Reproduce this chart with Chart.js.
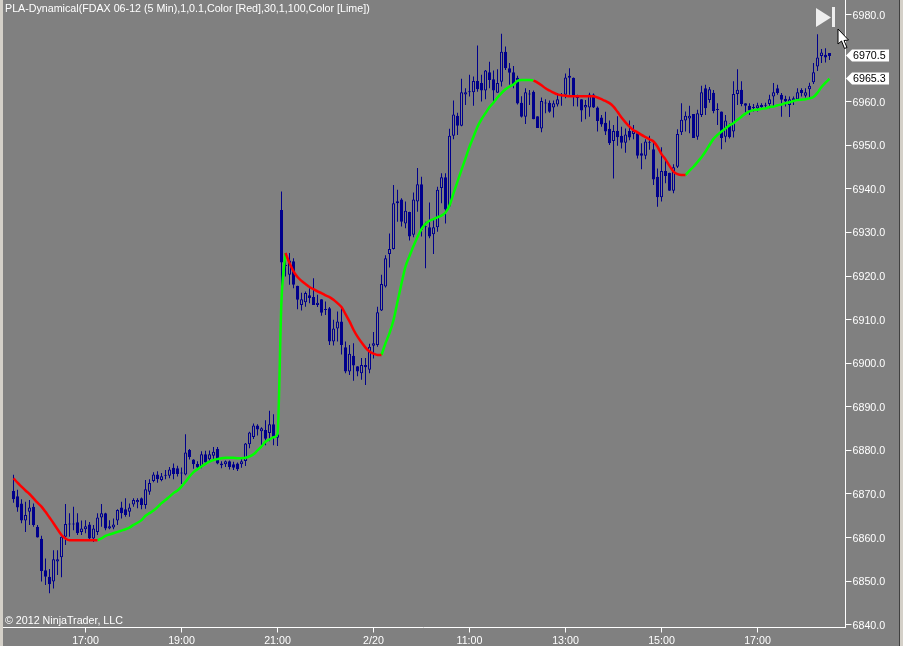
<!DOCTYPE html>
<html>
<head>
<meta charset="utf-8">
<title>FDAX 06-12</title>
<script src="https://cdn.jsdelivr.net/npm/chart.js@4/dist/chart.umd.min.js"></script>
<style>
html, body { margin: 0; padding: 0; background: #808080; overflow: hidden; }
canvas { display: block; }
</style>
</head>
<body>
<canvas id="chart" width="903" height="646"></canvas>
<script>
// -------- data (one entry per 5 min bar) -------- //

const opens = [
6870.7,6869.5,6867.8,6863.9,6865.9,6867.1,6862.5,6859.7,6852.5,6851,
6849.9,6854.5,6855.5,6860.2,6863.1,6863,6863.5,6861.3,6861.9,6863,
6859.8,6861.3,6864.6,6865.6,6862.1,6862.3,6863.9,6866.9,6866.5,6865.9,
6867.6,6868.1,6869,6867.5,6870.5,6873,6874.5,6873.2,6874.4,6874.2,
6876,6875.9,6874.9,6874.5,6880.1,6877.9,6876.9,6876.4,6879.1,6878,
6878.8,6880.3,6877,6876.8,6877.5,6876.8,6877,6876.8,6877.6,6881.4,
6883.1,6885.7,6884.4,6884.7,6884,6886,6882.9,6935.2,6922.5,6920.3,
6923.4,6917.8,6913.4,6914,6915.6,6915.2,6913.4,6914.7,6912.3,6912.6,
6905,6908,6909.6,6903.7,6898.1,6901.7,6899.3,6897.7,6899.6,6898.5,
6904,6904.2,6912.1,6917.6,6925.1,6926.2,6936.7,6937.6,6932.1,6934.7,
6929.5,6937.1,6941.1,6931.3,6931.2,6929.6,6931.2,6940.2,6942.7,6936,
6952.2,6956.8,6954.5,6961.7,6962.3,6962.2,6964.8,6964.3,6962.6,6966.8,
6965.2,6962.1,6964.6,6971.5,6967.7,6966.8,6965.5,6959.8,6956.6,6961.8,
6962.3,6956.7,6953.9,6959.7,6959.8,6958.7,6959.4,6961.4,6961.6,6965.5,
6965.5,6961,6960.6,6958.7,6958.7,6961.7,6958.7,6956.4,6955.2,6953.8,
6951,6953.3,6952.2,6950.6,6953.3,6952.6,6952.8,6948.2,6947.6,6950.7,
6949.1,6942.8,6938.1,6944.1,6943.7,6939.6,6945.1,6953,6955.7,6956.2,
6957.2,6952,6957,6963.1,6960.4,6962.1,6958.2,6957.8,6952,6954.7,
6953.2,6961.8,6962.8,6959.7,6959.1,6958.8,6958.5,6958.8,6959.2,6959.5,
6961.2,6963.1,6961.6,6960.7,6959.3,6960.3,6960.6,6962.7,6961.4,6962.9,
6964.5,6968.1,6970.5,6970.8,6971.2
];

const closes = [
6868.8,6866.9,6863.9,6865.2,6866.9,6862.9,6860,6852.3,6851,6849.3,
6855,6855,6860.2,6863.1,6863,6863.1,6861,6862.1,6862.6,6859.8,
6862.1,6864.6,6865.6,6862.1,6862.6,6863,6866.3,6865.6,6865.2,6866.9,
6868.6,6868.6,6867.5,6871.1,6872.5,6874.5,6873.4,6874.1,6874.2,6875.6,
6874.6,6874.6,6874.7,6879.5,6878.5,6876.8,6876.1,6879.1,6877.2,6879.1,
6879.7,6877,6876.6,6877.5,6876.2,6876,6875.7,6877.5,6881.6,6884.1,
6885.7,6884.8,6885.1,6882.7,6886,6883.1,6883.7,6923.1,6922.3,6923.6,
6918,6914.6,6914.7,6916.1,6915,6913.4,6913.9,6911.6,6912.2,6905,
6908,6909.6,6904.2,6898.1,6902.2,6899.5,6898.1,6899.6,6899.1,6903.8,
6904.6,6911.7,6918.2,6924.1,6926.2,6936.7,6937.2,6932.5,6935,6929.1,
6937.6,6941.1,6930.6,6931.2,6929.1,6931.2,6939.8,6942.7,6935.3,6952.2,
6957.1,6954.5,6962.2,6962.2,6962.2,6964.8,6962.9,6962.6,6967.2,6965,
6962.6,6964.3,6971.5,6967.7,6966.7,6963.8,6959.6,6956.6,6962.2,6961.7,
6956,6954,6960.2,6959.6,6957.7,6959.7,6960.6,6961.3,6965.6,6966,
6961.3,6960.9,6958,6959.3,6961.7,6958.7,6955.6,6954.8,6953.2,6950.5,
6953.3,6951.9,6950.6,6952.5,6951.8,6953.3,6947.6,6947.6,6950.9,6950.6,
6942.2,6938.1,6944.1,6943,6939.6,6945,6952.6,6955.9,6956.8,6956.8,
6951.7,6957.4,6962.2,6958.5,6962.9,6957.9,6958.1,6951.7,6955.7,6951.9,
6961.8,6962.8,6959.5,6959.1,6958,6958.6,6959.2,6959.3,6959.1,6960.6,
6962.2,6962,6960.5,6960.1,6960.6,6960.8,6962.2,6962,6962.2,6963.7,
6966.8,6970.2,6971.3,6970.2,6970.5
];

const highs = [
6874.4,6871,6868.8,6868.2,6868.6,6867.8,6862.9,6860.4,6855.2,6852.8,
6857.1,6857.1,6860.3,6867.7,6865.6,6867.1,6865.6,6863.9,6864,6863.6,
6862.9,6865.6,6867.7,6865.7,6864,6864.4,6866.5,6868.2,6869,6867.8,
6869,6869,6869.2,6873.2,6873.4,6875,6875.2,6874.8,6875.5,6876.2,
6877,6876.5,6876.1,6883.7,6880.3,6878,6877.5,6879.8,6879.9,6880,
6880.8,6880.8,6877.5,6877.7,6877.7,6877.4,6877.2,6878.3,6881.7,6884.3,
6886.2,6886,6885.3,6886.9,6889.1,6888.3,6886,6939.4,6925,6925.3,
6924.1,6917.8,6916.2,6916.5,6917.2,6919.5,6915.7,6914.7,6914.2,6912.9,
6910,6911.9,6913,6905,6904.2,6904.6,6899.3,6901.2,6901.2,6904.5,
6907.2,6913,6920.3,6924.8,6929.8,6940.9,6939.8,6937.9,6937.1,6934.8,
6939.2,6944.8,6942.8,6932.5,6936.9,6933.3,6940.5,6943.6,6943.6,6953.8,
6960.3,6957.5,6965.3,6963.1,6966.2,6965.8,6972.9,6966.2,6967.3,6969.2,
6967.2,6967.5,6975.6,6972.7,6968.9,6968.2,6966,6961.3,6963.1,6962.7,
6962.6,6956.7,6961,6960.6,6960.3,6960.3,6962,6962,6966.5,6967.7,
6965.6,6961.6,6960.6,6960.4,6962.1,6961.9,6958.9,6957,6957.7,6955.7,
6954.7,6956.7,6954.3,6953.9,6955.7,6954.7,6952.8,6950.5,6951.4,6952.2,
6951.2,6944.7,6949.6,6946.6,6943.7,6945.7,6953.7,6959.7,6957.8,6959.1,
6957.2,6958.2,6963.7,6963.9,6963.4,6962.7,6959.7,6957.8,6957,6955,
6964.7,6967.5,6964.7,6959.7,6959.7,6959.5,6959.8,6959.7,6959.8,6961.6,
6964.3,6963.9,6962,6961.4,6961.2,6961.2,6963.1,6963.1,6963.1,6964.4,
6968.9,6975.5,6972.1,6972.3,6971.2
];

const lows = [
6868,6865.9,6863.3,6861.3,6862.9,6862.5,6860,6849.9,6849.1,6847.2,
6848.3,6851.4,6850.9,6858.3,6860.2,6861.7,6860.6,6860.6,6861,6859.4,
6859,6860.6,6862.5,6861.7,6861.9,6861.9,6862.9,6864.4,6864.8,6864.8,
6867.1,6866.7,6866.5,6866.6,6869.8,6872.7,6872.6,6872.9,6873.4,6873.6,
6873.4,6874,6872.3,6874.3,6877.9,6875.8,6875.5,6875.9,6877,6877.4,
6877.6,6876.8,6875.9,6876.2,6875.6,6875.5,6875.3,6876,6876.4,6880.5,
6882.6,6883.4,6880.9,6881.2,6882.1,6881.2,6881,6917,6919.9,6918,
6917.2,6912.4,6912.1,6913,6913.8,6913.4,6912.9,6910.9,6911.1,6904.2,
6904.1,6905,6902,6897.7,6897.3,6896,6897,6896.2,6895,6897.7,
6901.1,6903.8,6912,6917.4,6922,6926.1,6932.5,6931.4,6931,6928.2,
6928.9,6934.8,6929.1,6921.8,6928.7,6925.1,6930.2,6936.7,6932.1,6935.9,
6951.4,6952.4,6954.4,6959.3,6961.2,6959.1,6962.3,6960.1,6960.6,6963.1,
6960.1,6962.1,6963.5,6967.3,6963.9,6963.1,6959.4,6956.4,6954.9,6959.3,
6956,6954,6953,6957.4,6957.5,6956.4,6958.9,6959.1,6960.8,6961.6,
6959,6958.9,6955.4,6956,6956.6,6958.6,6953.2,6954.3,6952.4,6950.1,
6942.4,6949.9,6949.3,6948.3,6951.2,6951.4,6947,6944.5,6946.8,6949,
6940.9,6935.9,6937.1,6941.3,6939.6,6939,6944.8,6952.4,6953.2,6952.8,
6951.7,6951.3,6956.5,6957,6959.8,6957.4,6954.7,6949.1,6950.7,6951.6,
6951.8,6959.3,6959,6957,6957,6957.8,6957.8,6958.2,6958.5,6958.5,
6958.9,6961.6,6956.6,6958.9,6956.5,6959.3,6960.5,6961.2,6961,6960.8,
6964.1,6967.1,6968.9,6969,6969.6
];

// PLA-Dynamical line, red while falling and lime while rising
const redLine = [
6873.6,6872.6,6871.7,6870.8,6870,6869,6868,6867.1,6865.9,6864.6,
6863.3,6861.9,6860.6,6859.8,6859.4,6859.4,6859.4,6859.4,6859.4,6859.4,
6859.4,6859.4,null,null,null,null,null,null,null,null,
null,null,null,null,null,null,null,null,null,null,
null,null,null,null,null,null,null,null,null,null,
null,null,null,null,null,null,null,null,null,null,
null,null,null,null,null,null,null,null,6925.3,6923,
6921.1,6919.8,6918.9,6918.2,6917.5,6917,6916.5,6916.1,6915.6,6915.2,
6914.6,6913.8,6912.9,6911.3,6909.6,6907.7,6906.1,6904.8,6903.6,6902.7,
6902.2,6901.9,6901.9,null,null,null,null,null,null,null,
null,null,null,null,null,null,null,null,null,null,
null,null,null,null,null,null,null,null,null,null,
null,null,null,null,null,null,null,null,null,null,
6964.9,6964.4,6963.8,6963.1,6962.6,6962.1,6961.7,6961.5,6961.4,6961.3,
6961.3,6961.3,6961.3,6961.3,6961.3,6961.3,6961,6960.6,6960.2,6959.7,
6958.9,6957.7,6956.4,6955.3,6954.3,6953.5,6953,6952.4,6951.9,6951.4,
6950.9,6949.7,6948,6946.8,6945.3,6944,6943.4,6943.2,6943.2,null,
null,null,null,null,null,null,null,null,null,null,
null,null,null,null,null,null,null,null,null,null,
null,null,null,null,null,null,null,null,null,null,
null,null,null,null,null
];

const limeLine = [
null,null,null,null,null,null,null,null,null,null,
null,null,null,null,null,null,null,null,null,null,
null,6859.4,6859.8,6860.4,6860.7,6861,6861.3,6861.6,6861.9,6862.3,
6862.9,6863.4,6864,6865,6865.6,6866.2,6867,6867.9,6868.6,6869.4,
6870.2,6870.8,6871.7,6872.8,6874,6875,6875.7,6876.3,6876.9,6877.4,
6877.8,6878,6878.2,6878.3,6878.3,6878.3,6878.2,6878.2,6878.3,6878.6,
6879.1,6880,6880.9,6882,6882.5,6883,6883.8,6914.5,6925.3,null,
null,null,null,null,null,null,null,null,null,null,
null,null,null,null,null,null,null,null,null,null,
null,null,6901.9,6904.6,6906.9,6909.9,6914.1,6918.3,6922.2,6924.6,
6926.9,6929,6930.8,6932,6932.7,6933.1,6933.5,6933.9,6934.6,6936.2,
6939,6941.7,6944.4,6947,6949.7,6952,6954.3,6956,6957.4,6958.8,
6959.8,6961,6962,6962.9,6963.5,6964,6964.8,6965,6965,6965,
6964.9,null,null,null,null,null,null,null,null,null,
null,null,null,null,null,null,null,null,null,null,
null,null,null,null,null,null,null,null,null,null,
null,null,null,null,null,null,null,null,6943.2,6944.2,
6945.1,6946.2,6947.3,6948.6,6950.1,6951.5,6952.4,6953.2,6953.9,6954.6,
6955.1,6955.9,6956.6,6957.3,6957.8,6958.1,6958.2,6958.4,6958.5,6958.8,
6958.9,6959.2,6959.4,6959.7,6959.9,6960.2,6960.4,6960.5,6960.6,6960.8,
6961.1,6962.1,6963.4,6964.4,6965.3
];

// time axis labels and the bar they sit under
const timeBars = [18, 42, 66, 90, 114, 138, 162, 186];
const timeNames = ["17:00", "19:00", "21:00", "2/20", "11:00", "13:00", "15:00", "17:00"];

// price axis (6970.0 sits behind the price flag in the reference, so it is left out)
const priceTicks = [6840, 6850, 6860, 6870, 6880, 6890, 6900, 6910, 6920, 6930, 6940, 6950, 6960, 6980];

// price markers on the right edge
const markerValues = [6970.5, 6965.3];

const titleText = "PLA-Dynamical(FDAX 06-12 (5 Min),1,0.1,Color [Red],30,1,100,Color [Lime])";
const copyrightText = "\u00A9 2012 NinjaTrader, LLC";

// -------- colours and layout -------- //

const BG = "#808080";
const FRAME = "#d4d0c8";
const CANDLE = "#00008c";
const TEXT = "#ffffff";
const FONT = "10.7px 'Liberation Sans', Arial, sans-serif";

// blank slots so the bars sit where the reference has them on the time axis
const LEAD = 3;
const TRAIL = 4;

const pad = (arr) => [...Array(LEAD).fill(null), ...arr, ...Array(TRAIL).fill(null)];

const labels = Array(LEAD + opens.length + TRAIL).fill("");
timeBars.forEach((bar, i) => { labels[bar + LEAD] = timeNames[i]; });

const wicks = pad(lows.map((low, i) => [low, highs[i]]));
const bodies = pad(opens.map((open, i) => [Math.min(open, closes[i]), Math.max(open, closes[i])]));
const bodyFill = pad(opens.map((open, i) => closes[i] >= open ? BG : CANDLE));

// -------- plugin for what is not a data mark: frame, texts, price flags, icons -------- //

const decorations = {
    id: "decorations",
    beforeDraw(chart) {
        const ctx = chart.ctx;
        ctx.save();
        ctx.fillStyle = BG;
        ctx.fillRect(0, 0, chart.width, chart.height);
        ctx.restore();
    },
    afterDraw(chart) {
        const ctx = chart.ctx;
        const y = chart.scales.y;
        ctx.save();

        // window frame left and right
        ctx.fillStyle = FRAME;
        ctx.fillRect(0, 0, 3, chart.height);
        ctx.fillRect(900, 0, 3, chart.height);
        ctx.fillStyle = "#404040";
        ctx.fillRect(899, 0, 1, chart.height);

        // texts
        ctx.font = FONT;
        ctx.fillStyle = TEXT;
        ctx.textBaseline = "middle";
        ctx.textAlign = "left";
        ctx.fillText(titleText, 5, 9);
        ctx.fillText(copyrightText, 5, 621);

        // price flags
        markerValues.forEach((value) => {
            const py = Math.round(y.getPixelForValue(value)) - 0.5;
            ctx.fillStyle = "#ffffff";
            ctx.beginPath();
            ctx.moveTo(846, py);
            ctx.lineTo(852, py - 6);
            ctx.lineTo(889, py - 6);
            ctx.lineTo(889, py + 6);
            ctx.lineTo(852, py + 6);
            ctx.closePath();
            ctx.fill();
            ctx.fillStyle = "#000000";
            ctx.fillText(value.toFixed(1), 853, py + 0.5);
        });

        // "go to last bar" button
        ctx.fillStyle = "#eeeeee";
        ctx.beginPath();
        ctx.moveTo(816, 8);
        ctx.lineTo(831, 17.5);
        ctx.lineTo(816, 27);
        ctx.closePath();
        ctx.fill();
        ctx.fillRect(832, 7, 3, 20);

        // mouse cursor
        ctx.beginPath();
        ctx.moveTo(838, 29);
        ctx.lineTo(838, 44);
        ctx.lineTo(841.5, 41);
        ctx.lineTo(844.5, 48.5);
        ctx.lineTo(847, 47.5);
        ctx.lineTo(844, 40.5);
        ctx.lineTo(848.5, 40);
        ctx.closePath();
        ctx.fillStyle = "#ffffff";
        ctx.fill();
        ctx.strokeStyle = "#000000";
        ctx.lineWidth = 1;
        ctx.stroke();

        ctx.restore();
    }
};

// -------- the chart -------- //

const axisFont = { family: "'Liberation Sans', Arial, sans-serif", size: 10.7 };

new Chart(document.getElementById("chart"), {
    type: "bar",
    plugins: [decorations],
    data: {
        labels: labels,
        datasets: [
            {
                type: "line",
                data: pad(redLine),
                borderColor: "#ff0000",
                borderWidth: 2.5,
                pointRadius: 0,
                cubicInterpolationMode: "monotone",
                spanGaps: false,
                order: 0
            },
            {
                type: "line",
                data: pad(limeLine),
                borderColor: "#00ff00",
                borderWidth: 2.5,
                pointRadius: 0,
                cubicInterpolationMode: "monotone",
                spanGaps: false,
                order: 0
            },
            {
                data: bodies,
                backgroundColor: bodyFill,
                borderColor: CANDLE,
                borderWidth: 1,
                borderSkipped: false,
                barThickness: 3,
                minBarLength: 1,
                inflateAmount: 0,
                grouped: false,
                order: 1
            },
            {
                data: wicks,
                backgroundColor: CANDLE,
                barThickness: 1,
                inflateAmount: 0,
                grouped: false,
                order: 2
            }
        ]
    },
    options: {
        responsive: false,
        devicePixelRatio: 1,
        animation: false,
        events: [],
        layout: { padding: { left: 1.5, right: 0, top: 0, bottom: 0 } },
        plugins: {
            legend: { display: false },
            tooltip: { enabled: false }
        },
        scales: {
            x: {
                offset: false,
                grid: {
                    offset: false,
                    drawOnChartArea: false,
                    color: TEXT,
                    tickLength: 5
                },
                border: { color: TEXT },
                ticks: {
                    autoSkip: false,
                    maxRotation: 0,
                    color: TEXT,
                    font: axisFont,
                    padding: 2
                },
                afterBuildTicks(scale) {
                    scale.ticks = scale.ticks.filter(t => labels[t.value] !== "");
                },
                afterFit(scale) {
                    scale.height = 646 - 627.5;
                    scale.paddingLeft = 0;
                    scale.paddingRight = 0;
                }
            },
            y: {
                position: "right",
                min: 6839.36,
                max: 6983.37,
                grid: {
                    drawOnChartArea: false,
                    color: TEXT,
                    tickLength: 6
                },
                border: { color: TEXT },
                ticks: {
                    color: TEXT,
                    font: axisFont,
                    padding: 1,
                    labelOffset: 1,
                    callback: (value) => value.toFixed(1)
                },
                afterBuildTicks(scale) {
                    scale.ticks = priceTicks.map(value => ({ value }));
                },
                afterFit(scale) {
                    scale.width = 903 - 845.5;
                    scale.paddingTop = 0;
                    scale.paddingBottom = 0;
                }
            }
        }
    }
});
</script>
</body>
</html>
